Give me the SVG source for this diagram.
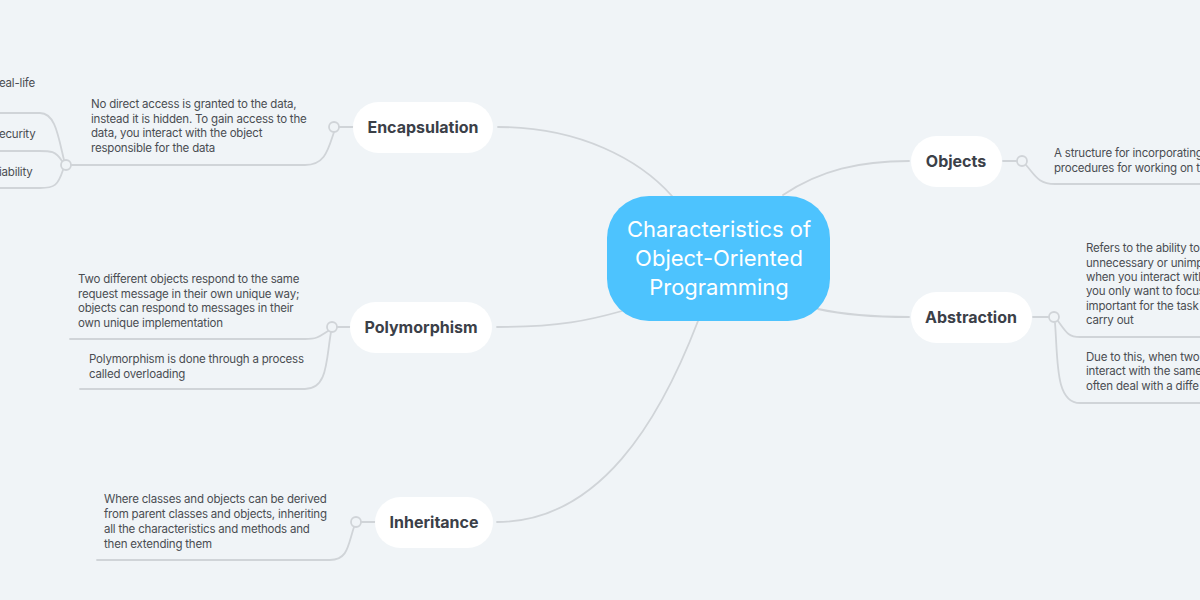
<svg xmlns="http://www.w3.org/2000/svg" width="1200" height="600" viewBox="0 0 1200 600">
<style>
.bg{fill:#f0f4f7}
.c{fill:none;stroke:#d0d4d8;stroke-width:1.8;stroke-linecap:round}
.dot{fill:#f0f4f7;stroke:#d0d4d8;stroke-width:1.8}
.node{fill:#ffffff}
.lbl{font-family:Inter,"Noto Sans",sans-serif;font-weight:700;font-size:16px;fill:#3b4048;text-anchor:middle}
.sub{font-family:Inter,"Noto Sans",sans-serif;font-size:11.5px;letter-spacing:-0.2px;fill:#4a4d52}
.main{font-family:Inter,"Noto Sans",sans-serif;font-size:22px;fill:#ffffff;text-anchor:middle}
</style>
<rect class="bg" x="0" y="0" width="1200" height="600"/>
<g id="connectors">
<path class="c" d="M498,127 C580,127 640,160 672,196"/>
<path class="c" d="M497,327 C560,327 590,320 622,311"/>
<path class="c" d="M497,522 C600,522 660,420 698,321"/>
<path class="c" d="M783,195 C820,170 860,161 909,161"/>
<path class="c" d="M818,309 C850,316 880,317 909,317"/>
<path class="c" d="M339,127 L353,127"/>
<path class="c" d="M334,132 C328,150 325,165 305,165 L71,165"/>
<path class="c" d="M64,160 C58,135 55,113 40,113 L0,113"/>
<path class="c" d="M62,161 C55,150 50,151 35,151 L0,151"/>
<path class="c" d="M63,170 C58,185 55,188 40,188 L0,188"/>
<path class="c" d="M337,327 L350,327"/>
<path class="c" d="M328,331 C320,336 318,339 305,339 L70,339"/>
<path class="c" d="M331,332 C326,360 328,389 305,389 L80,389"/>
<path class="c" d="M361,522 L375,522"/>
<path class="c" d="M354,527 C348,545 348,560 330,560 L97,560"/>
<path class="c" d="M1003,161 L1017,161"/>
<path class="c" d="M1026,165 C1035,175 1038,184 1055,184 L1200,184"/>
<path class="c" d="M1033,317 L1049,317"/>
<path class="c" d="M1058,321 C1066,332 1068,337 1080,337 L1200,337"/>
<path class="c" d="M1055,323 C1058,360 1055,403 1080,403 L1200,403"/>
<circle class="dot" cx="334" cy="127" r="5"/>
<circle class="dot" cx="66" cy="165" r="5"/>
<circle class="dot" cx="332" cy="327" r="5"/>
<circle class="dot" cx="356" cy="522" r="5"/>
<circle class="dot" cx="1022" cy="161" r="5"/>
<circle class="dot" cx="1054" cy="317" r="5"/>
</g>
<g id="central">
<rect x="607" y="196" width="223" height="125" rx="42" fill="#4dc3fe"/>
<text class="main" x="719" y="237">Characteristics of</text>
<text class="main" x="719" y="266">Object-Oriented</text>
<text class="main" x="719" y="295">Programming</text>
</g>
<g id="encapsulation">
<rect class="node" x="353" y="102" width="140" height="51" rx="25.5"/>
<text class="lbl" x="423" y="133">Encapsulation</text>
</g>
<g id="encapsulation-note">
<text class="sub" x="91" y="108">No direct access is granted to the data,</text>
<text class="sub" x="91" y="123">instead it is hidden. To gain access to the</text>
<text class="sub" x="91" y="137">data, you interact with the object</text>
<text class="sub" x="91" y="152">responsible for the data</text>
</g>
<g id="encap-sub1"><text class="sub" x="-1" y="87">eal-life</text></g>
<g id="encap-sub2"><text class="sub" x="-1" y="138">ecurity</text></g>
<g id="encap-sub3"><text class="sub" x="-1" y="176">iability</text></g>
<g id="polymorphism">
<rect class="node" x="350" y="302" width="142" height="51" rx="25.5"/>
<text class="lbl" x="421" y="333">Polymorphism</text>
</g>
<g id="poly-note1">
<text class="sub" x="78" y="283">Two different objects respond to the same</text>
<text class="sub" x="78" y="298">request message in their own unique way;</text>
<text class="sub" x="78" y="312">objects can respond to messages in their</text>
<text class="sub" x="78" y="327">own unique implementation</text>
</g>
<g id="poly-note2">
<text class="sub" x="89" y="363">Polymorphism is done through a process</text>
<text class="sub" x="89" y="378">called overloading</text>
</g>
<g id="inheritance">
<rect class="node" x="375" y="497" width="118" height="51" rx="25.5"/>
<text class="lbl" x="434" y="528">Inheritance</text>
</g>
<g id="inheritance-note">
<text class="sub" x="104" y="503">Where classes and objects can be derived</text>
<text class="sub" x="104" y="518">from parent classes and objects, inheriting</text>
<text class="sub" x="104" y="533">all the characteristics and methods and</text>
<text class="sub" x="104" y="548">then extending them</text>
</g>
<g id="objects">
<rect class="node" x="911" y="136" width="91" height="51" rx="25.5"/>
<text class="lbl" x="956" y="167">Objects</text>
</g>
<g id="objects-note">
<text class="sub" x="1054" y="157">A structure for incorporating</text>
<text class="sub" x="1054" y="172">procedures for working on th</text>
</g>
<g id="abstraction">
<rect class="node" x="911" y="292" width="121" height="51" rx="25.5"/>
<text class="lbl" x="971" y="323">Abstraction</text>
</g>
<g id="abstraction-note1">
<text class="sub" x="1086" y="252">Refers to the ability to</text>
<text class="sub" x="1086" y="267">unnecessary or unimp</text>
<text class="sub" x="1086" y="281">when you interact with</text>
<text class="sub" x="1086" y="295">you only want to focus</text>
<text class="sub" x="1086" y="310">important for the task</text>
<text class="sub" x="1086" y="324">carry out</text>
</g>
<g id="abstraction-note2">
<text class="sub" x="1086" y="361">Due to this, when two</text>
<text class="sub" x="1086" y="375">interact with the same</text>
<text class="sub" x="1086" y="390">often deal with a diffe</text>
</g>
</svg>
